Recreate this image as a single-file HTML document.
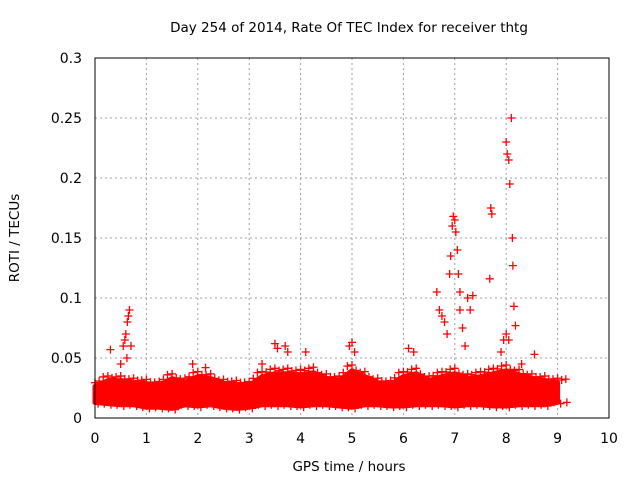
<!DOCTYPE html>
<html><head><meta charset="utf-8"><style>
body{margin:0;background:#fff;}
svg{display:block;font-family:"DejaVu Sans","Liberation Sans",sans-serif;}
</style></head><body>
<svg id="chart" width="640" height="480" viewBox="0 0 640 480">
<rect width="640" height="480" fill="#fff"/>
<text x="349" y="32" font-size="13.5" text-anchor="middle">Day 254 of 2014, Rate Of TEC Index for receiver thtg</text>
<text transform="translate(19,238) rotate(-90)" font-size="13.5" text-anchor="middle">ROTI / TECUs</text>
<text x="349" y="471" font-size="13.5" text-anchor="middle">GPS time / hours</text>
<g id="grid"></g><g id="ticks"></g><g id="marks"></g>
<rect x="95" y="58" width="514" height="360" fill="none" stroke="#000" stroke-width="1"/>
</svg>
<script>
const xTicks=[0,1,2,3,4,5,6,7,8,9,10];
const yTicks=[0,0.05,0.1,0.15,0.2,0.25,0.3];
const yTickLabels=["0","0.05","0.1","0.15","0.2","0.25","0.3"];
const bandTimes=[0,0.25,0.5,0.75,1,1.25,1.5,1.75,2,2.25,2.5,2.75,3,3.25,3.5,3.75,4,4.25,4.5,4.75,5,5.25,5.5,5.75,6,6.25,6.5,6.75,7,7.25,7.5,7.75,8,8.25,8.5,8.75,9];
const bandHigh=[0.032,0.038,0.038,0.036,0.035,0.033,0.04,0.036,0.042,0.04,0.035,0.034,0.033,0.042,0.045,0.045,0.044,0.046,0.04,0.038,0.048,0.042,0.036,0.034,0.042,0.045,0.038,0.042,0.045,0.04,0.042,0.045,0.048,0.044,0.04,0.038,0.036];
const bandLow=[0.01,0.009,0.008,0.008,0.006,0.006,0.005,0.008,0.007,0.008,0.006,0.005,0.006,0.008,0.008,0.008,0.007,0.008,0.008,0.007,0.006,0.008,0.008,0.007,0.007,0.008,0.008,0.008,0.007,0.008,0.008,0.007,0.007,0.008,0.008,0.008,0.01];
const spikeTimes=[0.3,0.55,0.58,0.6,0.63,0.65,0.67,0.7,0.62,0.5,3.5,3.55,3.7,3.75,4.1,4.95,5.0,5.05,6.1,6.2,6.65,6.7,6.75,6.8,6.9,6.92,6.95,6.97,7.0,7.02,7.05,7.07,7.1,7.15,7.25,7.3,7.35,7.2,7.7,7.72,7.68,8.0,8.02,8.05,8.07,8.1,8.12,8.13,8.15,8.18,7.95,8.0,8.05,8.55,7.9,8.3,6.85,7.1,3.25,1.9,2.15];
const spikeValues=[0.057,0.06,0.065,0.07,0.08,0.085,0.09,0.06,0.05,0.045,0.062,0.058,0.06,0.055,0.055,0.06,0.063,0.055,0.058,0.055,0.105,0.09,0.085,0.08,0.12,0.135,0.16,0.168,0.165,0.155,0.14,0.12,0.09,0.075,0.1,0.09,0.102,0.06,0.175,0.17,0.116,0.23,0.22,0.215,0.195,0.25,0.15,0.127,0.093,0.077,0.065,0.07,0.065,0.053,0.055,0.045,0.07,0.105,0.045,0.045,0.042];
const X0=95,X1=609,Y0=418,Y1=58;
const xs=t=>X0+t/10*(X1-X0);
const ys=v=>Y0-v/0.3*(Y0-Y1);
const NS="http://www.w3.org/2000/svg";
function mk(tag,attrs,parent){const e=document.createElementNS(NS,tag);for(const k in attrs)e.setAttribute(k,attrs[k]);parent.appendChild(e);return e;}
const grid=document.getElementById('grid'),ticks=document.getElementById('ticks'),marks=document.getElementById('marks');
xTicks.forEach(t=>{const x=xs(t);
 if(t>0&&t<10){const g=mk('line',{x1:x,x2:x,y1:Y1,y2:Y0,stroke:'#a0a0a0','stroke-dasharray':'2,3'},grid);
 
 }
 const l=mk('text',{x:x,y:443,'font-size':14,'text-anchor':'middle'},ticks);l.textContent=t;
 
 
});
yTicks.forEach((v,i)=>{const y=ys(v);
 if(v>0&&v<0.3){const g=mk('line',{x1:X0,x2:X1,y1:y,y2:y,stroke:'#a0a0a0','stroke-dasharray':'2,3'},grid);
 
 }
 const l=mk('text',{x:82,y:y+5,'font-size':14,'text-anchor':'end'},ticks);l.textContent=yTickLabels[i];
 
 
});
let pts=bandTimes.map((t,i)=>xs(t)+','+ys(bandHigh[i]*0.82)).concat(bandTimes.slice().reverse().map((t,j)=>{const i=bandTimes.length-1-j;return xs(t)+','+ys(bandLow[i]+0.003);}));
const band=mk('polygon',{points:pts.join(' '),fill:'#f00',stroke:'#f00','stroke-width':5,'stroke-linejoin':'round'},marks);


function plus(t,v){const x=xs(t),y=ys(v);
 const p=mk('path',{d:`M${x-4} ${y}H${x+4}M${x} ${y-4}V${y+4}`,stroke:'#f00','stroke-width':1.3},marks);
 
 }
bandTimes.forEach((t,i)=>{const n=Math.min(i+1,bandHigh.length-1);
 plus(t,bandHigh[i]*0.92);plus(t+0.08,(bandHigh[i]+bandHigh[n])/2*0.88);plus(t+0.16,bandHigh[n]*0.9);
 plus(t+0.06,bandLow[i]+0.002);plus(t+0.18,bandLow[n]+0.003);});
spikeTimes.forEach((t,i)=>plus(t,spikeValues[i]));
</script>
</body></html>
